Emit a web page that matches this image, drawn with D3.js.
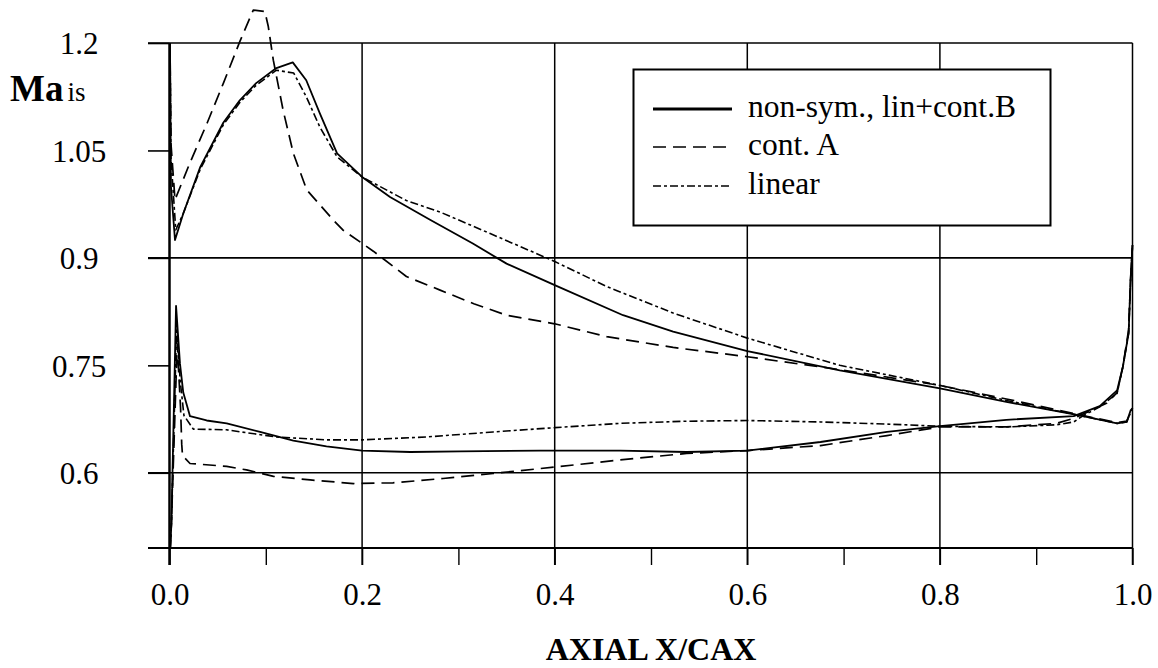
<!DOCTYPE html>
<html><head><meta charset="utf-8">
<script src="https://cdn.jsdelivr.net/npm/d3@7"></script>
<style>
body{margin:0;background:#fff}
svg text{font-family:"Liberation Serif","Times New Roman",Times,"Nimbus Roman","DejaVu Serif",serif !important;fill:#000}
</style>
</head><body>
<svg id="chart" width="1158" height="668"></svg>
<script>
// ---- tick values / labels ----
const xTickValues = [0,0.1,0.2,0.3,0.4,0.5,0.6,0.7,0.8,0.9,1.0];
const xLabelValues = [0,0.2,0.4,0.6,0.8,1.0];
const yTickValues = [1.2,1.05,0.9,0.75,0.6];
const yTickLabels = ["1.2","1.05","0.9","0.75","0.6"];
const yGridValues = [1.2,0.9,0.6];
const seriesNames = ["non-sym., lin+cont.B","cont. A","linear"];

// ---- suction side (upper branch) ----
const ssX_nonSym = [0.0005,0.0015,0.0057,0.0143,0.032,0.056,0.073,0.09,0.111,0.128,0.142,0.156,0.174,0.2,0.229,0.271,0.315,0.35,0.4,0.471,0.523,0.6,0.696,0.8,0.869,0.945,0.984,0.994,0.998,1.0];
const ssMa_nonSym = [1.2,1.0,0.925,0.962,1.027,1.089,1.12,1.144,1.165,1.173,1.148,1.102,1.046,1.013,0.985,0.953,0.92,0.892,0.862,0.82,0.797,0.77,0.743,0.718,0.699,0.68,0.669,0.671,0.687,0.69];

const ssX_contA = [0.0005,0.0015,0.0057,0.021,0.039,0.056,0.073,0.087,0.099,0.1026,0.1078,0.118,0.1286,0.1425,0.17,0.18,0.212,0.246,0.281,0.316,0.35,0.4,0.454,0.523,0.6,0.696,0.8,0.869,0.945,0.984,0.994,1.0];
const ssMa_contA = [1.2,1.06,0.981,1.032,1.088,1.144,1.202,1.246,1.244,1.223,1.176,1.106,1.046,0.995,0.953,0.939,0.909,0.874,0.855,0.836,0.82,0.808,0.79,0.775,0.762,0.744,0.722,0.703,0.681,0.67,0.672,0.69];

const ssX_linear = [0.0005,0.0015,0.0065,0.0143,0.032,0.056,0.073,0.09,0.111,0.129,0.142,0.156,0.174,0.2,0.246,0.281,0.333,0.4,0.454,0.523,0.6,0.696,0.8,0.869,0.945,0.984,0.994,1.0];
const ssMa_linear = [1.2,1.04,0.939,0.962,1.024,1.086,1.117,1.141,1.162,1.158,1.125,1.083,1.041,1.013,0.98,0.964,0.934,0.895,0.86,0.823,0.788,0.75,0.722,0.701,0.68,0.669,0.671,0.69];

// ---- pressure side (lower branch) ----
const psX_nonSym = [0.0008,0.002,0.0068,0.0109,0.0143,0.0213,0.0386,0.0594,0.094,0.1286,0.163,0.2,0.25,0.302,0.385,0.468,0.537,0.6,0.676,0.745,0.8,0.869,0.939,0.966,0.984,0.99,0.996,0.998,1.0];
const psMa_nonSym = [0.495,0.53,0.833,0.752,0.712,0.679,0.673,0.669,0.657,0.645,0.637,0.631,0.629,0.63,0.631,0.631,0.629,0.631,0.643,0.657,0.665,0.674,0.679,0.693,0.715,0.748,0.795,0.869,0.918];

const psX_contA = [0.0008,0.002,0.008,0.0115,0.0127,0.0135,0.0213,0.0594,0.08,0.108,0.146,0.191,0.232,0.284,0.336,0.4,0.468,0.537,0.6,0.676,0.745,0.8,0.869,0.921,0.939,0.973,0.984,0.99,0.996,0.998,1.0];
const psMa_contA = [0.495,0.53,0.78,0.69,0.64,0.624,0.613,0.609,0.604,0.595,0.59,0.585,0.586,0.592,0.599,0.608,0.618,0.627,0.631,0.638,0.652,0.664,0.664,0.669,0.676,0.697,0.712,0.748,0.8,0.869,0.918];

const psX_linear = [0.0008,0.002,0.0075,0.011,0.015,0.0247,0.059,0.111,0.163,0.2,0.267,0.336,0.4,0.468,0.537,0.6,0.676,0.745,0.8,0.869,0.921,0.939,0.949,0.966,0.984,0.99,0.996,0.998,1.0];
const psMa_linear = [0.495,0.53,0.81,0.73,0.68,0.661,0.66,0.65,0.646,0.646,0.65,0.657,0.663,0.669,0.672,0.673,0.671,0.668,0.665,0.664,0.667,0.671,0.68,0.692,0.711,0.748,0.795,0.869,0.918];

// ---- drawing ----
const FONT = "'Liberation Serif','Times New Roman',Times,'Nimbus Roman','DejaVu Serif',serif";
const svg = d3.select("#chart");
svg.append("rect").attr("width",1158).attr("height",668).attr("fill","#fff");

const x = d3.scaleLinear().domain([0,1]).range([169.5,1132.5]);
const y = d3.scaleLinear().domain([0.495,1.2]).range([548,43]);
const left = 148, right = x(1), tickBottom = 565;

const styles = [
  {dash:null, width:1.8},
  {dash:"13,7", width:1.7},
  {dash:"8,3,3,3", width:1.6}
];

// grid
const g = svg.append("g");
g.selectAll(".hg").data(yGridValues).join("line")
  .attr("x1",left).attr("x2",right).attr("y1",d=>y(d)).attr("y2",d=>y(d))
  .attr("stroke","#000").attr("stroke-width",1.6);
g.selectAll(".vg").data(xLabelValues.filter(d=>d>0)).join("line")
  .attr("x1",d=>x(d)).attr("x2",d=>x(d)).attr("y1",y(1.2)).attr("y2",tickBottom)
  .attr("stroke","#000").attr("stroke-width",1.5);

// bottom axis
const xAxis = d3.axisBottom(x).tickValues(xTickValues).tickSize(tickBottom-y(0.495))
  .tickFormat(d => xLabelValues.some(v=>Math.abs(v-d)<1e-9) ? d3.format(".1f")(d) : "");
const gx = svg.append("g").attr("transform",`translate(0,${y(0.495)})`).call(xAxis)
  .attr("font-family",FONT);
gx.select(".domain").remove();
gx.selectAll(".tick line").attr("stroke","#000").attr("stroke-width",1.4);
gx.selectAll(".tick text").attr("y",57).attr("dy",0).attr("font-size",31)
  .attr("font-family",FONT).attr("fill","#000");
svg.append("line").attr("x1",left).attr("x2",right).attr("y1",y(0.495)).attr("y2",y(0.495))
  .attr("stroke","#000").attr("stroke-width",2);

// left axis
const yAxis = d3.axisLeft(y).tickValues(yTickValues).tickSize(x(0)-left)
  .tickFormat((d,i)=>yTickLabels[i]);
const gy = svg.append("g").attr("transform",`translate(${x(0)},0)`).call(yAxis)
  .attr("font-family",FONT);
gy.select(".domain").remove();
gy.selectAll(".tick line").attr("stroke","#000").attr("stroke-width",1.6);
gy.selectAll(".tick text").attr("x",79-x(0)).attr("dy","0.35em").attr("text-anchor","middle")
  .attr("font-size",31).attr("font-family",FONT).attr("fill","#000");
svg.append("line").attr("x1",x(0)).attr("x2",x(0)).attr("y1",y(1.2)).attr("y2",tickBottom)
  .attr("stroke","#000").attr("stroke-width",2.5);

// curves
const line = d3.line().x(d=>x(d[0])).y(d=>y(d[1]));
const curves = [
  [ssX_nonSym, ssMa_nonSym, 0],
  [ssX_contA, ssMa_contA, 1],
  [ssX_linear, ssMa_linear, 2],
  [psX_nonSym, psMa_nonSym, 0],
  [psX_contA, psMa_contA, 1],
  [psX_linear, psMa_linear, 2]
];
curves.forEach(([xs,ms,si])=>{
  svg.append("path").datum(xs.map((v,i)=>[v,ms[i]]))
    .attr("d",line).attr("fill","none").attr("stroke","#000")
    .attr("stroke-width",styles[si].width)
    .attr("stroke-dasharray",styles[si].dash)
    .attr("stroke-linejoin","round");
});

// legend
const lg = svg.append("g").attr("font-family",FONT);
lg.append("rect").attr("x",633.5).attr("y",69.5).attr("width",417).attr("height",156)
  .attr("fill","#fff").attr("stroke","#000").attr("stroke-width",2);
const legY = [109,147,186];
seriesNames.forEach((name,i)=>{
  lg.append("line").attr("x1",653).attr("x2",732).attr("y1",legY[i]).attr("y2",legY[i])
    .attr("stroke","#000").attr("stroke-width",i===0?3:1.7)
    .attr("stroke-dasharray",styles[i].dash);
  lg.append("text").attr("x",748).attr("y",legY[i]+8).attr("font-size",31.5)
    .attr("font-family",FONT).text(name);
});

// axis titles
const ma = svg.append("text").attr("x",10).attr("y",101).attr("font-family",FONT);
ma.append("tspan").attr("font-weight","bold").attr("font-size",37).text("Ma");
ma.append("tspan").attr("font-size",27).attr("dx",4).text("is");
svg.append("text").attr("x",651).attr("y",660).attr("text-anchor","middle")
  .attr("font-family",FONT).attr("font-weight","bold").attr("font-size",32).text("AXIAL X/CAX");
</script>
</body></html>
